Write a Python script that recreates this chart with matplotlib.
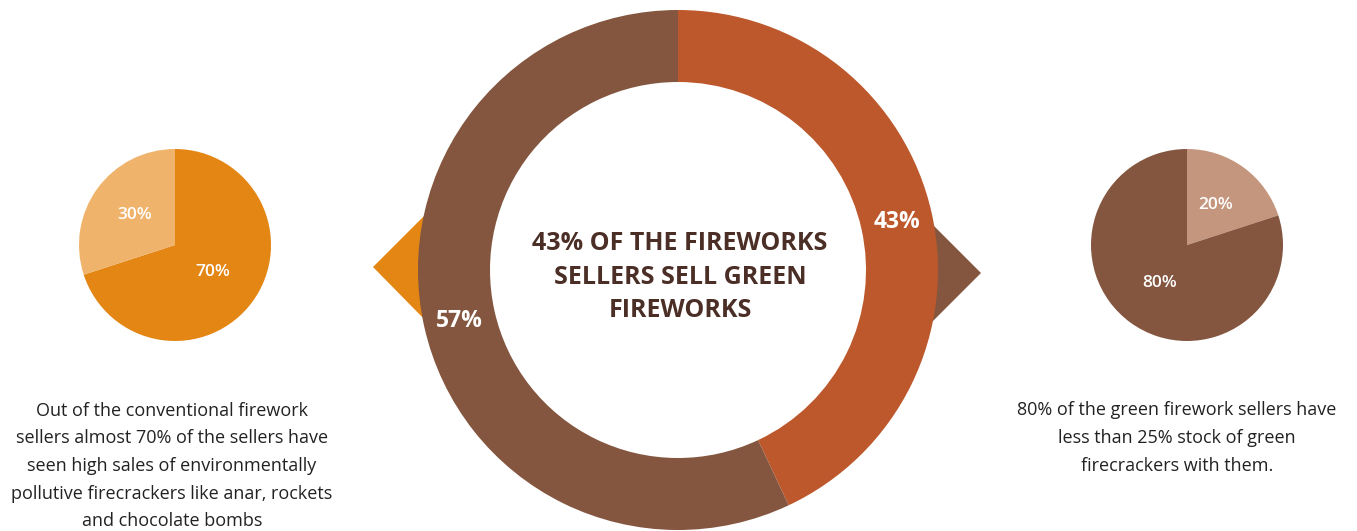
import matplotlib.pyplot as plt
from matplotlib.patches import Polygon

plt.rcParams['font.family'] = ['Open Sans', 'DejaVu Sans']

# data
conv_labels = ['70%', '30%']
conv_values = [70, 30]
green_labels = ['43%', '57%']
green_values = [43, 57]
stock_labels = ['20%', '80%']
stock_values = [20, 80]

left_text = ("Out of the conventional firework\nsellers almost 70% of the sellers have\n"
             "seen high sales of environmentally\npollutive firecrackers like anar, rockets\n"
             "and chocolate bombs")
right_text = ("80% of the green firework sellers have\nless than 25% stock of green\n"
              "firecrackers with them.")
title_text = "43% OF THE FIREWORKS\nSELLERS SELL GREEN\nFIREWORKS"

W, H = 1357, 531
fig = plt.figure(figsize=(W / 100, H / 100), dpi=100)
ax = fig.add_axes([0, 0, 1, 1])

# arrows behind the donut
ax.add_patch(Polygon([(373, H - 267), (430, H - 210), (430, H - 325)],
                     closed=True, color='#E48614', lw=0, zorder=0))
ax.add_patch(Polygon([(981, H - 273), (926, H - 218), (926, H - 328)],
                     closed=True, color='#84563F', lw=0, zorder=0))

# left pie
ax.pie(conv_values, colors=['#E48614', '#F0B36C'], startangle=90,
       counterclock=False, center=(175, H - 245), radius=96,
       wedgeprops=dict(linewidth=0))
ax.text(213, H - 272, conv_labels[0], color='white', fontsize=12.5,
        fontweight='semibold', ha='center', va='center')
ax.text(135, H - 215, conv_labels[1], color='white', fontsize=12.5,
        fontweight='semibold', ha='center', va='center')

# center donut
ax.pie(green_values, colors=['#BC582C', '#84563F'], startangle=90,
       counterclock=False, center=(678, H - 270), radius=260,
       wedgeprops=dict(width=72, linewidth=0))
ax.text(897, H - 222, green_labels[0], color='white', fontsize=16.5,
        fontweight='bold', ha='center', va='center')
ax.text(459, H - 321, green_labels[1], color='white', fontsize=16.5,
        fontweight='bold', ha='center', va='center')
ax.text(680, H - 277, title_text, color='#4B2E25', fontsize=18,
        fontweight='bold', ha='center', va='center', linespacing=1.46)

# right pie
ax.pie(stock_values, colors=['#C4967E', '#84563F'], startangle=90,
       counterclock=False, center=(1187, H - 245), radius=96,
       wedgeprops=dict(linewidth=0))
ax.text(1216, H - 205, stock_labels[0], color='white', fontsize=12.5,
        fontweight='semibold', ha='center', va='center')
ax.text(1160, H - 283, stock_labels[1], color='white', fontsize=12.5,
        fontweight='semibold', ha='center', va='center')

# captions
ax.text(172, H - 466, left_text, color='#222222', fontsize=13,
        ha='center', va='center', linespacing=1.69)
ax.text(1177, H - 438, right_text, color='#222222', fontsize=13,
        ha='center', va='center', linespacing=1.69)

ax.set_xlim(0, W)
ax.set_ylim(0, H)
ax.set_aspect('equal')
ax.axis('off')

plt.savefig('out.png', dpi=100)
